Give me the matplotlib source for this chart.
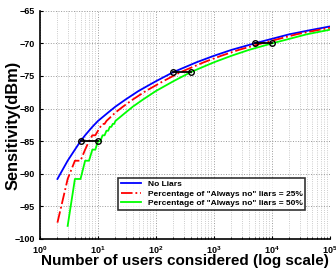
import numpy as np
import matplotlib
matplotlib.use("Agg")
import matplotlib.pyplot as plt
from matplotlib.ticker import LogLocator, NullFormatter

# number of users and sensitivity (dBm)
users_none = [2, 3, 4, 5, 6, 7, 8, 10, 15, 20, 30, 50, 100, 200, 500,
              1000, 2000, 5000, 10000, 20000, 50000, 100000]
sens_none = [-90.8, -88.0, -86.3, -85.0, -84.1, -83.4, -82.8, -81.9, -80.6,
             -79.7, -78.6, -77.3, -75.8, -74.4, -72.9, -71.9, -71.0, -70.0,
             -69.3, -68.6, -67.9, -67.4]

users_25 = [2, 3, 4, 5, 6, 7, 8, 9, 10, 11, 12, 13, 14, 20, 27, 40, 67, 133,
            267, 667, 1333, 2667, 6667, 13333, 26667, 66667, 100000]
sens_25 = [-97.5, -90.8, -88.0, -88.0, -86.3, -85.0, -84.1, -84.1, -83.4,
           -82.8, -82.35, -82.35, -81.9, -80.6, -79.7, -78.6, -77.3, -75.8,
           -74.4, -72.9, -71.9, -71.0, -70.0, -69.3, -68.6, -67.9, -67.6]

users_50 = [3, 4, 5, 6, 7, 8, 9, 10, 11, 12, 13, 14, 15, 16, 17, 18, 19, 20,
            30, 40, 60, 100, 200, 400, 1000, 2000, 4000, 10000, 20000, 40000,
            100000]
sens_50 = [-98.0, -90.8, -90.8, -88.0, -88.0, -86.3, -86.3, -85.0, -85.0,
           -84.1, -84.1, -83.4, -83.4, -82.8, -82.8, -82.35, -82.35, -81.9,
           -80.6, -79.7, -78.6, -77.3, -75.8, -74.4, -72.9, -71.9, -71.0,
           -70.0, -69.3, -68.6, -67.9]

# pairs of equal-sensitivity points (no liars vs 50% liars)
pair_users = [(5, 10), (200, 400), (5000, 10000)]
pair_sens = [-85.0, -74.4, -70.0]

plt.rcParams["font.family"] = ["Liberation Sans", "DejaVu Sans"]
plt.rcParams["font.weight"] = "bold"
plt.rcParams["mathtext.default"] = "bf"

fig = plt.figure(figsize=(3.36, 2.70), dpi=100)
ax = fig.add_axes([0.119, 0.115, 0.863, 0.845])

ax.plot(users_none, sens_none, color="#0000ff", lw=1.3, label="No Liars")
ax.plot(users_25, sens_25, color="#ff0000", lw=1.3, ls="-.",
        label='Percentage of "Always no" liars = 25%')
ax.plot(users_50, sens_50, color="#00ff00", lw=1.3,
        label='Percentage of "Always no" liars = 50%')

for (u1, u2), s in zip(pair_users, pair_sens):
    ax.plot([u1, u2], [s, s], color="k", lw=1.3, marker="o", ms=4,
            mfc="none", mew=1.0)

ax.set_xscale("log")
ax.set_xlim(1, 1e5)
ax.set_ylim(-100, -65)
ax.set_yticks(np.arange(-100, -64, 5))
ax.xaxis.set_major_locator(LogLocator(base=10, numticks=10))
ax.xaxis.set_minor_locator(LogLocator(base=10, subs=np.arange(2, 10), numticks=10))
ax.xaxis.set_minor_formatter(NullFormatter())

ax.grid(True, which="major", color="#999999", ls=":", lw=0.7)
ax.grid(True, which="minor", axis="x", color="#bbbbbb", ls=":", lw=0.6)
ax.tick_params(direction="in", labelsize=6.5, length=2.5)
ax.tick_params(which="minor", direction="in", length=1.5)
ax.spines[["top", "right"]].set_visible(False)
ax.spines[["left", "bottom"]].set_linewidth(1.2)

ax.set_xlabel("Number of users considered (log scale)", fontsize=11,
              fontweight="bold", labelpad=-1)
ax.set_ylabel("Sensitivity(dBm)", fontsize=11.8, fontweight="bold")
ax.yaxis.set_label_coords(-0.066, 0.5)

leg = ax.legend(loc="lower right", bbox_to_anchor=(0.93, 0.11), fontsize=6,
                frameon=True, fancybox=False, borderpad=0.3,
                handlelength=2.5, labelspacing=0.2)
leg.get_frame().set_edgecolor("k")
leg.get_frame().set_linewidth(1.2)
for t in leg.get_texts():
    t.set_fontweight("bold")

fig.savefig("out.png", dpi=100)
